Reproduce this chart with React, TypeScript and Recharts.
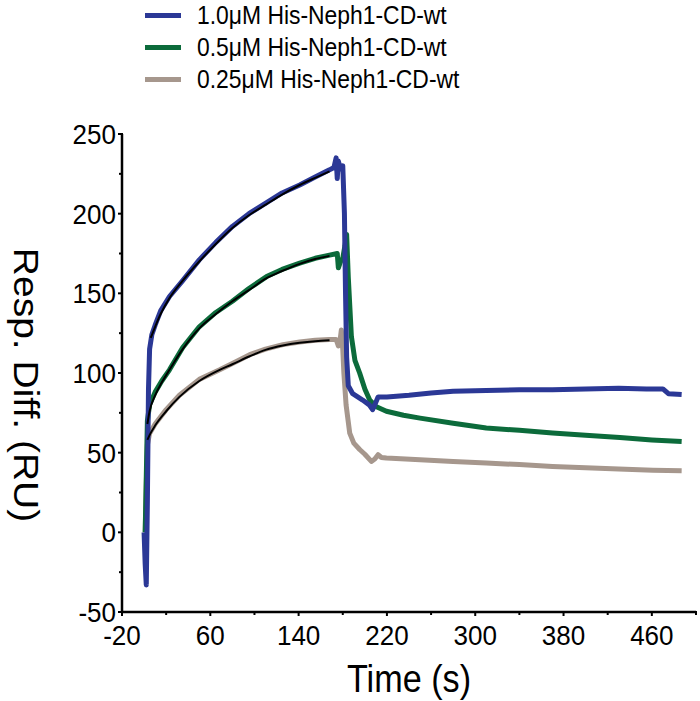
import { LineChart, Line, XAxis, YAxis } from 'recharts'

// ─── Data (time in s, response in RU) ────────────────────────────────────────

const blue1uM: [number, number][] = [
  [0, 0], [1, -20], [2, -33], [3, 20], [4, 90], [5, 115], [7, 124], [10, 130],
  [15, 139], [23, 148], [35, 158], [50, 171], [65, 182], [80, 192], [95, 200],
  [111, 207], [125, 213], [141, 218], [155, 223], [168, 227.5], [172, 229],
  [174, 235], [175, 222], [176, 233], [178, 228], [180, 230], [181.5, 200],
  [182.5, 150], [183.5, 110], [185, 92], [189, 87], [198, 83], [204, 80],
  [207, 77], [209, 80], [212, 85], [220, 85], [240, 86], [260, 87.5], [280, 88.5],
  [310, 89], [340, 89.5], [370, 89.5], [400, 90], [430, 90.5], [455, 90],
  [470, 90], [475, 87], [487, 86.5],
]

const green05uM: [number, number][] = [
  [1, 0], [2, 35], [3, 70], [5, 80], [10, 88], [16, 95], [23, 102], [35, 116],
  [50, 129], [65, 138], [80, 145], [95, 153], [111, 160.5], [125, 165], [141, 169],
  [155, 172], [168, 174], [175, 175], [176, 166], [178, 170], [180, 172], [182, 180],
  [183.5, 187], [185, 160], [187.8, 123], [191, 108], [195.3, 100], [200, 90],
  [204.4, 83], [210, 79], [219.5, 76], [235, 73.5], [250, 71.7], [280, 68.5],
  [310, 65.5], [340, 64], [370, 62.3], [400, 61], [431, 59.5], [460, 58], [487, 57],
]

const taupe025uM: [number, number][] = [
  [1, 0], [2, 30], [3, 55], [5, 62], [10, 68], [20, 77], [32, 86], [50, 96],
  [68.5, 102], [80, 106], [95.7, 111.5], [110, 115], [125.8, 117.8], [141, 119.5],
  [155, 120.5], [168, 121], [174, 121], [176, 117], [177.5, 120], [178.7, 127],
  [180, 115], [181, 100], [183, 80], [186.3, 62.3], [190, 56], [195.3, 52],
  [200, 49], [205.9, 44.5], [209, 46], [212, 48.7], [215, 47], [219.5, 46.6],
  [250, 45.5], [280, 44.5], [310, 43.5], [340, 42.5], [370, 41.3], [400, 40.5],
  [430, 39.8], [461, 39], [487, 38.6],
]

// fitted association curves (black)
const fitBlue: [number, number][] = [
  [6, 122], [10, 129], [15, 137], [23, 147], [35, 158], [50, 170], [65, 181],
  [80, 191], [95, 199], [111, 206], [125, 212], [141, 218], [155, 222.5], [168, 226.5],
]
const fitGreen: [number, number][] = [
  [3, 68], [5, 76], [10, 86], [16, 94], [23, 102], [35, 115], [50, 128], [65, 137],
  [80, 145], [95, 152], [111, 159.5], [125, 164], [141, 168.5], [155, 171.5], [168, 173.5],
]
const fitTaupe: [number, number][] = [
  [3, 58], [5, 61], [10, 67], [20, 76], [32, 85], [50, 95], [68.5, 102], [80, 105.5],
  [95.7, 110.5], [110, 114.5], [125.8, 117.3], [141, 119], [155, 120], [168, 120.5],
]

const xTicks = [-20, 20, 60, 100, 140, 180, 220, 260, 300, 340, 380, 420, 460, 500]
const xLabelled = [-20, 60, 140, 220, 300, 380, 460]
const yTicks = [-50, -25, 0, 25, 50, 75, 100, 125, 150, 175, 200, 225, 250]
const yLabelled = [-50, 0, 50, 100, 150, 200, 250]

const seriesNames = ['1.0μM His-Neph1-CD-wt', '0.5μM His-Neph1-CD-wt', '0.25μM His-Neph1-CD-wt']

// ─── Styling ─────────────────────────────────────────────────────────────────

const FONT = '"Liberation Sans", Arial, Helvetica, sans-serif'
const BLUE = '#2b3896'
const GREEN = '#0c6b3b'
const TAUPE = '#a6978d'
const seriesColors = [BLUE, GREEN, TAUPE]

const toPoints = (arr: [number, number][]) => arr.map(([t, v]) => ({ t, v }))

// ─── Ticks & labels ──────────────────────────────────────────────────────────

const XTick = ({ x, y, payload }: any) => {
  const major = xLabelled.includes(payload.value)
  return (
    <g>
      <line x1={x} x2={x} y1={y - 1} y2={y + (major ? 4 : 3)} stroke="#000" strokeWidth={2} />
      {major && (
        <text
          transform={`translate(${x}, ${y + 33}) scale(0.93, 1)`}
          textAnchor="middle"
          fontSize={28}
          fontFamily={FONT}
          fill="#000"
        >
          {payload.value}
        </text>
      )}
    </g>
  )
}

const YTick = ({ x, y, payload }: any) => {
  const major = yLabelled.includes(payload.value)
  return (
    <g>
      <line x1={x - (major ? 4 : 3)} x2={x + 1} y1={y} y2={y} stroke="#000" strokeWidth={2} />
      {major && (
        <text
          transform={`translate(${x - 6}, ${y + 10}) scale(0.93, 1)`}
          textAnchor="end"
          fontSize={28}
          fontFamily={FONT}
          fill="#000"
        >
          {payload.value}
        </text>
      )}
    </g>
  )
}

const YTitle = ({ viewBox }: any) => {
  const cx = 26
  const cy = viewBox.y + viewBox.height / 2 + 12
  return (
    <text
      transform={`translate(${cx}, ${cy}) rotate(90) scale(1, 0.9)`}
      textAnchor="middle"
      dominantBaseline="central"
      fontSize={39}
      fontFamily={FONT}
      fill="#000"
    >
      Resp. Diff. (RU)
    </text>
  )
}

const XTitle = ({ viewBox }: any) => (
  <text
    transform={`translate(${viewBox.x + viewBox.width / 2}, ${viewBox.y + 80}) scale(0.9, 1)`}
    textAnchor="middle"
    fontSize={38}
    fontFamily={FONT}
    fill="#000"
  >
    Time (s)
  </text>
)

// ─── Component ───────────────────────────────────────────────────────────────

export default function App() {
  return (
    <div style={{ position: 'absolute', left: 0, top: 0, width: 700, height: 701, background: '#fff' }}>
      {/* legend */}
      <div style={{ position: 'absolute', left: 145, top: -1, fontFamily: FONT, fontSize: 26, lineHeight: '26px', color: '#000' }}>
        {seriesNames.map((name, i) => (
          <div key={name} style={{ display: 'flex', alignItems: 'center', height: 32 }}>
            <span style={{ display: 'inline-block', width: 36, height: 5, background: seriesColors[i], marginRight: 16 }} />
            <span style={{ display: 'inline-block', transform: 'scaleX(0.88)', transformOrigin: 'left center', whiteSpace: 'nowrap' }}>
              {name}
            </span>
          </div>
        ))}
      </div>

      <LineChart width={700} height={701} margin={{ top: 134, right: 4, bottom: 0, left: 0 }}>
        <XAxis
          type="number"
          dataKey="t"
          domain={[-20, 500]}
          ticks={xTicks}
          interval={0}
          tickSize={0}
          tickMargin={0}
          tick={<XTick />}
          height={89}
          axisLine={{ stroke: '#000', strokeWidth: 2.5 }}
          tickLine={false}
          allowDataOverflow
          label={<XTitle />}
        />
        <YAxis
          type="number"
          domain={[-50, 250]}
          ticks={yTicks}
          interval={0}
          tickSize={0}
          tickMargin={0}
          tick={<YTick />}
          width={122}
          axisLine={{ stroke: '#000', strokeWidth: 2.5 }}
          tickLine={false}
          allowDataOverflow
          label={<YTitle />}
        />
        <Line data={toPoints(taupe025uM)} dataKey="v" type="linear" stroke={TAUPE} strokeWidth={5} dot={false} isAnimationActive={false} strokeLinejoin="round" />
        <Line data={toPoints(green05uM)} dataKey="v" type="linear" stroke={GREEN} strokeWidth={5} dot={false} isAnimationActive={false} strokeLinejoin="round" />
        <Line data={toPoints(blue1uM)} dataKey="v" type="linear" stroke={BLUE} strokeWidth={5} dot={false} isAnimationActive={false} strokeLinejoin="round" />
        <Line data={toPoints(fitTaupe)} dataKey="v" type="monotone" stroke="#000" strokeWidth={2} dot={false} isAnimationActive={false} />
        <Line data={toPoints(fitGreen)} dataKey="v" type="monotone" stroke="#000" strokeWidth={2} dot={false} isAnimationActive={false} />
        <Line data={toPoints(fitBlue)} dataKey="v" type="monotone" stroke="#000" strokeWidth={2} dot={false} isAnimationActive={false} />
      </LineChart>
    </div>
  )
}
